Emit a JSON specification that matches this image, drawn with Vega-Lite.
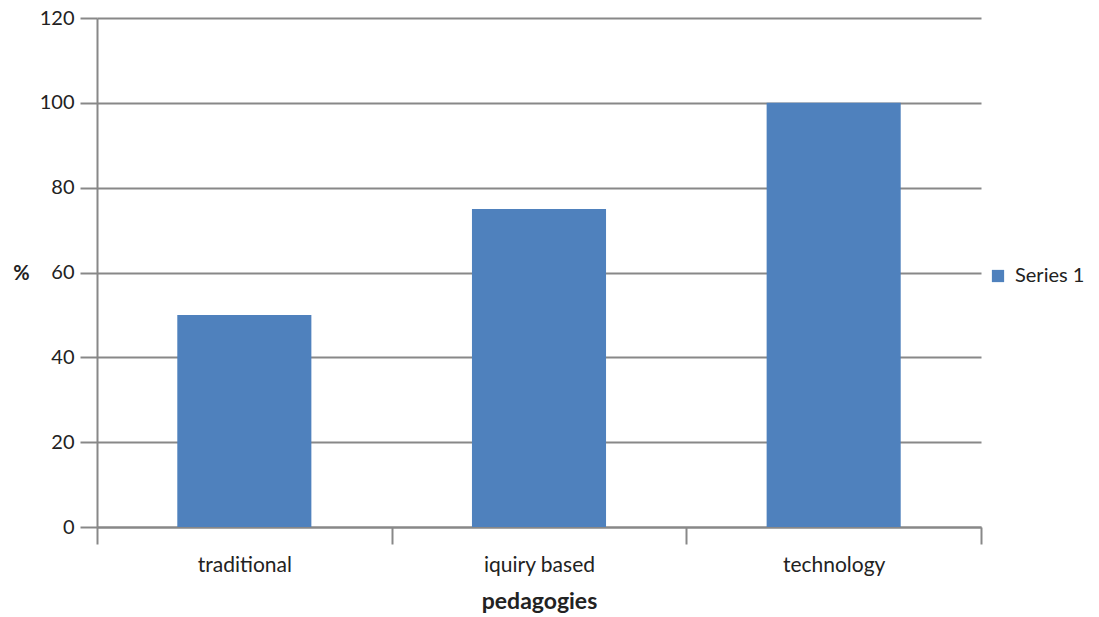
{
  "$schema": "https://vega.github.io/schema/vega-lite/v6.json",
  "width": 884,
  "height": 509,
  "autosize": {"type": "none"},
  "padding": {"left": 97, "top": 18, "right": 118, "bottom": 90},
  "background": "white",
  "config": {
    "view": {"stroke": null},
    "font": "Lato",
    "text": {"font": "Lato"}
  },
  "data": {
    "values": [
      {"pedagogy": "traditional", "value": 50, "series": "Series 1"},
      {"pedagogy": "iquiry based", "value": 75, "series": "Series 1"},
      {"pedagogy": "technology", "value": 100, "series": "Series 1"}
    ]
  },
  "mark": {"type": "bar", "width": {"band": 0.455}},
  "encoding": {
    "x": {
      "field": "pedagogy",
      "type": "nominal",
      "sort": null,
      "scale": {"paddingInner": 0, "paddingOuter": 0},
      "axis": {
        "title": "pedagogies",
        "titleFont": "Lato",
        "titleFontSize": 23,
        "titleFontWeight": "bold",
        "titleColor": "#222",
        "titlePadding": 15,
        "labelAngle": 0,
        "labelFont": "Lato",
        "labelFontSize": 21,
        "labelColor": "#222",
        "labelPadding": 10,
        "tickBand": "extent",
        "tickSize": 17,
        "tickColor": "#888",
        "tickWidth": 2,
        "domainColor": "#888",
        "domainWidth": 2,
        "grid": false
      }
    },
    "y": {
      "field": "value",
      "type": "quantitative",
      "scale": {"domain": [0, 120]},
      "axis": {
        "title": "%",
        "titleAngle": 0,
        "titleX": -76,
        "titleY": 255,
        "titleAlign": "center",
        "titleBaseline": "middle",
        "titleFont": "Lato",
        "titleFontSize": 20,
        "titleFontWeight": "bold",
        "titleColor": "#222",
        "values": [0, 20, 40, 60, 80, 100, 120],
        "labelFont": "Lato",
        "labelFontSize": 20,
        "labelColor": "#222",
        "labelPadding": 6,
        "tickSize": 17,
        "tickColor": "#888",
        "tickWidth": 2,
        "domainColor": "#888",
        "domainWidth": 2,
        "grid": true,
        "gridColor": "#888",
        "gridWidth": 2
      }
    },
    "color": {
      "field": "series",
      "type": "nominal",
      "scale": {"range": ["#4f81bd"]},
      "legend": {
        "title": null,
        "orient": "none",
        "legendX": 891,
        "legendY": 248,
        "symbolType": "square",
        "symbolSize": 150,
        "symbolStrokeWidth": 0,
        "labelFont": "Lato",
        "labelFontSize": 20,
        "labelColor": "#222",
        "labelOffset": 7,
        "padding": 0
      }
    }
  }
}
